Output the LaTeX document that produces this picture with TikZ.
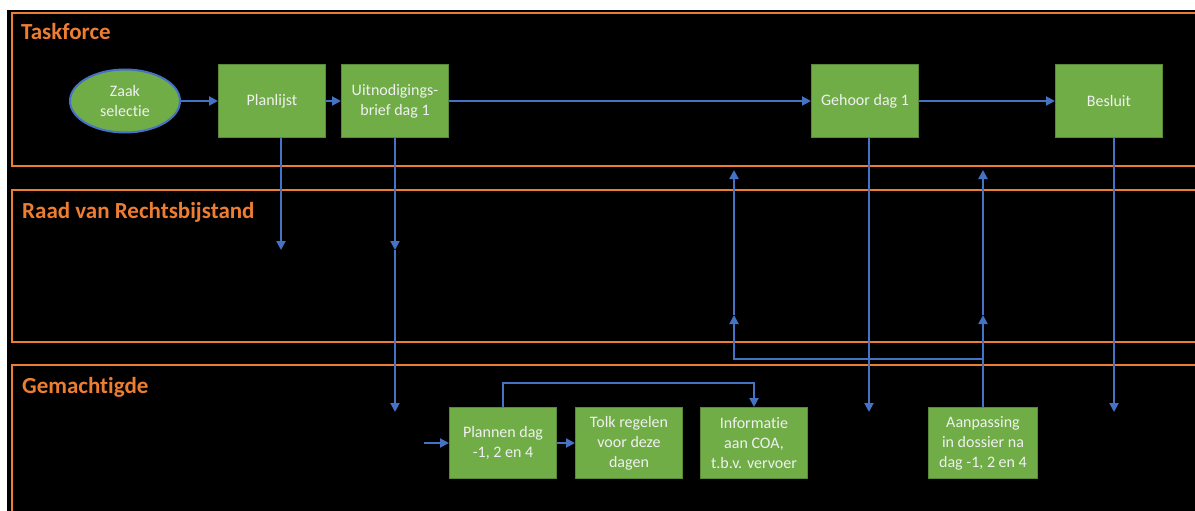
\documentclass[tikz,border=0pt]{standalone}
\usepackage{fontspec}
\setmainfont{Carlito}[Ligatures=NoCommon]
\usepackage{xcolor}
\usepackage{tikz}
\usetikzlibrary{positioning,shapes,arrows.meta}
\definecolor{laneorange}{HTML}{ED7D31}
\definecolor{boxgreen}{HTML}{70AD47}
\definecolor{linkblue}{HTML}{4472C4}
\tikzset{
  lane/.style={draw=laneorange, line width=2.5pt},
  lanetitle/.style={anchor=base west, inner sep=0pt, text=laneorange, font=\fontsize{23}{27}\selectfont\bfseries},
  procbox/.style={rectangle, fill=boxgreen, draw=boxgreen!80!black, line width=1pt, minimum width=107pt, minimum height=72pt, align=center, text=white!94!black, font=\fontsize{16}{20}\selectfont, inner sep=2pt},
  startnode/.style={ellipse, fill=boxgreen, draw=linkblue, line width=2pt, minimum width=110pt, minimum height=63pt, align=center, text=white!94!black, font=\fontsize{16}{20}\selectfont, inner sep=0pt},
  flow/.style={draw=linkblue, line width=2pt, -{Triangle[length=9pt,width=9pt]}},
  link/.style={draw=linkblue, line width=2pt}
}

\begin{document}
\begin{tikzpicture}[x=1pt,y=-1pt]
\useasboundingbox (0,0) rectangle (1195,511);
\fill[white] (0,0) rectangle (1195,511);
\fill[black] (7,10) rectangle (1195,511);

% banen
\draw[lane] (1200,13) -- (12,13) -- (12,166) -- (1200,166);
\draw[lane] (1200,190) -- (12,190) -- (12,342) -- (1200,342);
\draw[lane] (1200,365) -- (12,365) -- (12,515);
\node[lanetitle] (taskforce) at (21,40) {Taskforce};
\node[lanetitle] (raad) at (22,218) {Raad van Rechtsbijstand};
\node[lanetitle] (gemachtigde) at (22,393) {Gemachtigde};

% taskforce
\node[startnode] (zaak) at (125,101) {Zaak\\selectie};
\node[procbox] (planlijst) at (272,101) {Planlijst};
\node[procbox] (uitnodiging) at (395,101) {Uitnodigings-\\brief dag 1};
\node[procbox] (gehoor) at (865,101) {Gehoor dag 1};
\node[procbox] (besluit) at (1109,101) {Besluit};

% gemachtigde
\node[procbox, minimum height=71pt] (plannen) at (503,443) {Plannen dag\\-1, 2 en 4};
\node[procbox, minimum height=71pt, right=18pt of plannen] (tolk) {Tolk regelen\\voor deze\\dagen};
\node[procbox, minimum height=71pt, right=17pt of tolk] (informatie) {Informatie\\aan COA,\\t.b.v. vervoer};
\node[procbox, minimum height=71pt, minimum width=109pt] (aanpassing) at (983,443) {Aanpassing\\in dossier na\\dag -1, 2 en 4};

\coordinate (rrb1) at (281,250);
\coordinate (rrb2) at (395,250);
\coordinate (gem1) at (395,412);
\coordinate (gem2) at (869,412);
\coordinate (gem3) at (1114,412);
\coordinate (instap) at (424,443);
\coordinate (knik1) at (983,359);
\coordinate (knik2) at (734,359);
\coordinate (pijl1) at (983,315);
\coordinate (pijl2) at (734,315);
\coordinate (terug1) at (983,170);
\coordinate (terug2) at (734,170);

\draw[flow] (zaak) -- (planlijst);
\draw[flow] (planlijst) -- (uitnodiging);
\draw[flow] (uitnodiging) -- (gehoor);
\draw[flow] (gehoor) -- (besluit);
\draw[flow] ([xshift=9pt]planlijst.south) -- (rrb1);
\draw[flow] (uitnodiging.south) -- (rrb2);
\draw[flow] (rrb2) -- (gem1);
\draw[flow] ([xshift=4pt]gehoor.south) -- (gem2);
\draw[flow] ([xshift=5pt]besluit.south) -- (gem3);

\draw[link] (aanpassing.north) -- (knik1);
\draw[flow] (knik1) -- (pijl1);
\draw[flow] (pijl1) -- (terug1);
\draw[flow] (knik1) -- (knik2) -- (pijl2);
\draw[flow] (pijl2) -- (terug2);

\draw[flow] (instap) -- (plannen);
\draw[flow] (plannen) -- (tolk);
\draw[flow] (plannen.north) -- ++(0,-24) -| (informatie.north);
\end{tikzpicture}
\end{document}
